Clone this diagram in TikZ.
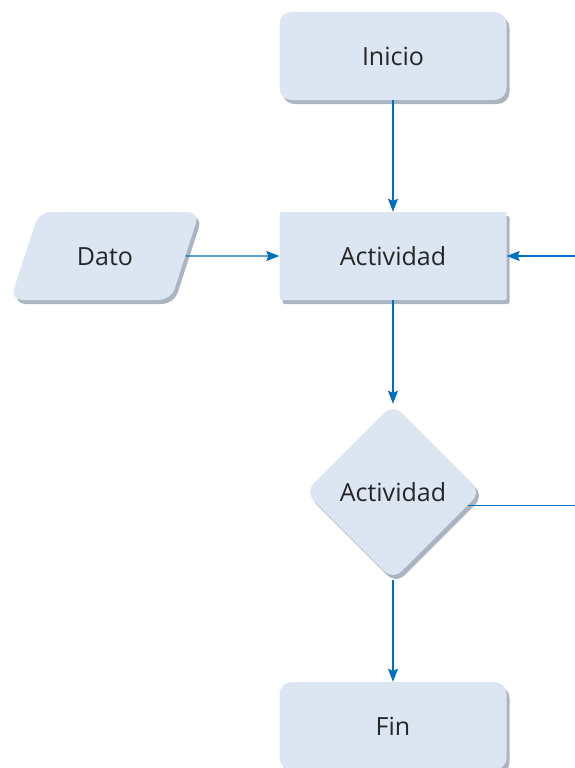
\documentclass[tikz,border=0pt]{standalone}
\usepackage{fontspec}
\setmainfont{Open Sans}
\usepackage{xcolor}
\usepackage{tikz}
\usetikzlibrary{shapes.geometric, shadows, arrows.meta}
\definecolor{boxFill}{RGB}{220,230,242}
\definecolor{lineBlue}{RGB}{0,112,192}
\definecolor{textGray}{RGB}{38,38,38}
\definecolor{shadowGray}{RGB}{135,148,166}

\begin{document}
\begin{tikzpicture}[x=1pt, y=-1pt,
    box/.style={fill=boxFill, text=textGray, font=\fontsize{25}{30}\selectfont,
        minimum width=227pt, minimum height=88pt,
        drop shadow={shadow xshift=3pt, shadow yshift=-4pt, fill=shadowGray, opacity=0.7}},
    link/.style={draw=lineBlue, line width=1.2pt, -{Stealth[length=13pt, width=10pt, inset=2pt]}}]
					\useasboundingbox (0, 0) rectangle (575, 768);

					\node[box, rounded corners=12pt] (inicio) at (393, 56) {Inicio};
					\node[box, rounded corners=2pt] (actividad) at (393, 256) {Actividad};
					\node[box, trapezium, trapezium left angle=72, trapezium right angle=108,
                        minimum width=0pt, minimum height=0pt, text height=18pt, text depth=0pt,
                        inner ysep=35pt, inner xsep=38pt, rounded corners=12pt] (dato) at (105, 256) {Dato};
                    \node[box, diamond, aspect=1, minimum width=176pt, minimum height=176pt,
                        inner sep=0pt, rounded corners=12pt] (pregunta) at (393, 492) {Actividad};
					\node[box, rounded corners=12pt] (fin) at (393, 726) {Fin};

					\coordinate (rightIn) at (575, 256);
					\coordinate (rightOut) at (575, 505);

					\draw[link] (inicio) -- (actividad);
					\draw[link] (dato) -- (actividad);
					\draw[link] (actividad) -- (pregunta);
					\draw[link] (pregunta) -- (fin);
                    \draw[draw=lineBlue, line width=1.2pt] (pregunta.-10) -- (pregunta.-10 -| rightOut);
                    \draw[link] (rightIn) -- (actividad);
				\end{tikzpicture}
\end{document}
